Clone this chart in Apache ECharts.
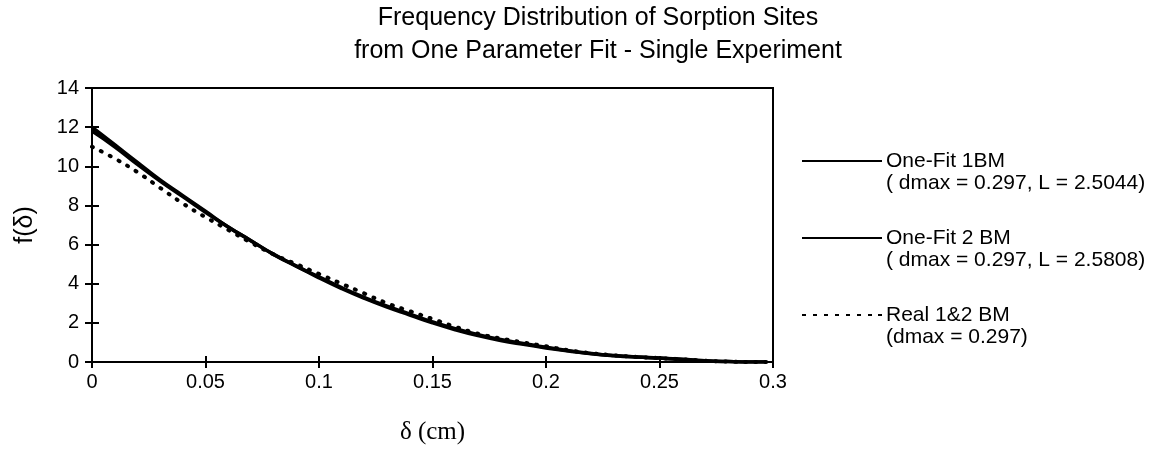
<!DOCTYPE html>
<html>
<head>
<meta charset="utf-8">
<script src="https://cdn.jsdelivr.net/npm/echarts@6/dist/echarts.min.js"></script>
<style>html,body{margin:0;padding:0;background:#fff}#c{width:1156px;height:463px}</style>
</head>
<body>
<div id="c"></div>
<script>
var titleLines = ['Frequency Distribution of Sorption Sites', 'from One Parameter Fit - Single Experiment'];
var xTicks = [0, 0.05, 0.1, 0.15, 0.2, 0.25, 0.3];
var yTicks = [0, 2, 4, 6, 8, 10, 12, 14];
var delta = [0, 0.01, 0.02, 0.03, 0.04, 0.05, 0.06, 0.07, 0.08, 0.09, 0.1, 0.11, 0.12, 0.13, 0.14, 0.15, 0.16, 0.17, 0.18, 0.19, 0.2, 0.21, 0.22, 0.23, 0.24, 0.25, 0.26, 0.27, 0.28, 0.29, 0.297];
var fit1BM = [12.0, 11.1, 10.2, 9.3, 8.5, 7.7, 6.9, 6.2, 5.5, 4.9, 4.35, 3.8, 3.3, 2.85, 2.45, 2.05, 1.7, 1.4, 1.15, 0.95, 0.75, 0.58, 0.44, 0.33, 0.25, 0.2, 0.14, 0.06, 0.02, 0.0, 0.0];
var fit2BM = [11.8, 11.0, 10.1, 9.25, 8.45, 7.65, 6.9, 6.2, 5.5, 4.9, 4.3, 3.75, 3.25, 2.8, 2.4, 2.0, 1.65, 1.35, 1.1, 0.9, 0.72, 0.56, 0.42, 0.32, 0.25, 0.2, 0.13, 0.06, 0.02, 0.0, 0.0];
var real12BM = [11.0, 10.4, 9.7, 8.9, 8.1, 7.4, 6.75, 6.1, 5.5, 5.0, 4.5, 4.0, 3.5, 3.0, 2.6, 2.2, 1.8, 1.45, 1.2, 1.0, 0.8, 0.6, 0.45, 0.34, 0.26, 0.2, 0.14, 0.07, 0.02, 0.0, 0.0];
var seriesNames = ['One-Fit 1BM', 'One-Fit 2 BM', 'Real 1&2 BM'];
var seriesNotes = ['( dmax = 0.297, L = 2.5044)', '( dmax = 0.297, L = 2.5808)', '(dmax = 0.297)'];

function pairs(ys) { return delta.map(function (d, i) { return [d, ys[i]]; }); }

var font = 'Liberation Sans, Arial, sans-serif';
var solidIcon = 'path://M0,0H80V2H0Z';
var dotIcon = 'path://M0,0H4V2H0Z M11,0H15V2H11Z M22,0H26V2H22Z M33,0H37V2H33Z M44,0H48V2H44Z M55,0H59V2H55Z M66,0H70V2H66Z M76,0H80V2H76Z';
var legendCenters = [161, 238, 315];
var legendIcons = [solidIcon, solidIcon, dotIcon];
var legendFont = 21;

var chart = echarts.init(document.getElementById('c'), null, { renderer: 'canvas' });

var titles = [{
  text: titleLines.join('\n'),
  left: 598, top: 2, textAlign: 'center', padding: 0,
  textStyle: { fontFamily: font, fontSize: 25, fontWeight: 'normal', color: '#000', lineHeight: 33 }
}];
seriesNotes.forEach(function (n, i) {
  titles.push({ text: n, left: 886, top: legendCenters[i] + 22 - legendFont / 2, padding: 0,
    textStyle: { fontFamily: font, fontSize: legendFont, fontWeight: 'normal', color: '#000' } });
});

var legends = seriesNames.map(function (n, i) {
  return {
    orient: 'vertical', left: 802, top: legendCenters[i] - legendFont / 2, itemWidth: 80, itemHeight: 2, itemGap: 4, padding: 0,
    data: [{ name: n, icon: legendIcons[i], itemStyle: { color: '#000' } }],
    textStyle: { fontFamily: font, fontSize: legendFont, color: '#000', padding: [0, 0, 0, -1] }
  };
});

var option = {
  backgroundColor: '#fff',
  animation: false,
  title: titles,
  legend: legends,
  grid: { left: 92, right: 383, top: 88, bottom: 101, show: true, borderColor: '#000', borderWidth: 2, backgroundColor: 'transparent' },
  xAxis: [{
    type: 'value', min: 0, max: 0.3, interval: 0.05,
    name: 'δ (cm)', nameLocation: 'middle', nameGap: 58,
    nameTextStyle: { fontFamily: 'Liberation Serif, Times New Roman, serif', fontSize: 25, color: '#000' },
    axisLine: { show: true, lineStyle: { color: '#000', width: 2 } },
    axisTick: { show: true, length: 6, lineStyle: { color: '#000', width: 2 } },
    axisLabel: { fontFamily: font, fontSize: 20, color: '#000', margin: 10, formatter: function (v) { return String(+v.toFixed(2)); } },
    splitLine: { show: false }
  }, {
    type: 'value', min: 0, max: 0.3, interval: 0.05, position: 'bottom',
    axisLine: { show: false }, axisLabel: { show: false }, splitLine: { show: false },
    axisTick: { show: true, inside: true, length: 6, lineStyle: { color: '#000', width: 2 } }
  }],
  yAxis: [{
    type: 'value', min: 0, max: 14, interval: 2,
    name: 'f(δ)', nameLocation: 'middle', nameGap: 54, nameRotate: 90,
    nameTextStyle: { fontFamily: font, fontSize: 25, color: '#000' },
    axisLine: { show: true, lineStyle: { color: '#000', width: 2 } },
    axisTick: { show: true, length: 7, lineStyle: { color: '#000', width: 2 } },
    axisLabel: { fontFamily: font, fontSize: 20, color: '#000', margin: 13 },
    splitLine: { show: false }
  }, {
    type: 'value', min: 0, max: 14, interval: 2, position: 'left',
    axisLine: { show: false }, axisLabel: { show: false }, splitLine: { show: false },
    axisTick: { show: true, inside: true, length: 7, lineStyle: { color: '#000', width: 2 } }
  }],
  series: [
    { name: seriesNames[0], type: 'line', data: pairs(fit1BM), symbol: 'none', smooth: true, lineStyle: { color: '#000', width: 3.5 }, itemStyle: { color: '#000' } },
    { name: seriesNames[1], type: 'line', data: pairs(fit2BM), symbol: 'none', smooth: true, lineStyle: { color: '#000', width: 3.5 }, itemStyle: { color: '#000' } },
    { name: seriesNames[2], type: 'line', data: pairs(real12BM), symbol: 'none', smooth: true, lineStyle: { color: '#000', width: 4, type: [1, 9], cap: 'round' }, itemStyle: { color: '#000' } }
  ]
};
chart.setOption(option);
</script>
</body>
</html>
